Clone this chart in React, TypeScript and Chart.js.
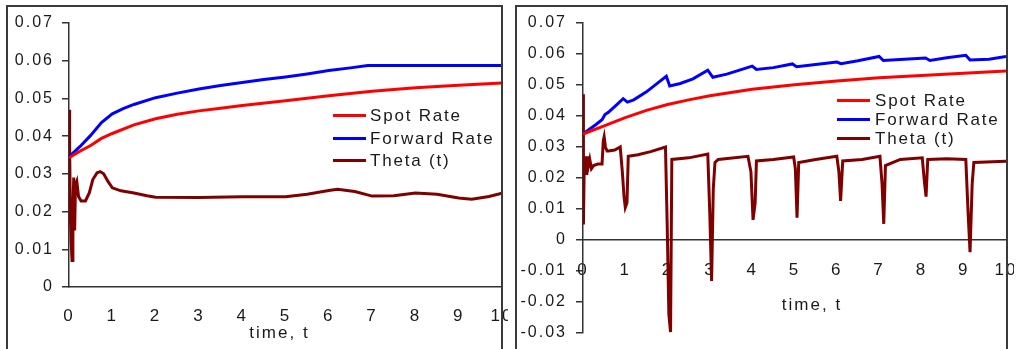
import React, { useEffect, useRef } from 'react';
import { Chart, registerables } from 'chart.js';

Chart.register(...registerables);

// ---------- data ----------
const seriesNames = ['Spot Rate', 'Forward Rate', 'Theta (t)'];
const seriesColors = ['#ff0000', '#0000ff', '#800000'];

// Left panel
const leftSpotTime = [0, 0.25, 0.5, 0.75, 1, 1.5, 2, 2.5, 3, 3.5, 4, 5, 6, 7, 8, 9, 10];
const leftSpotRate = [0.0343, 0.036, 0.0375, 0.0394, 0.0407, 0.043, 0.0446, 0.0458, 0.0467, 0.0474, 0.0481, 0.0494, 0.0507, 0.0519, 0.0528, 0.0535, 0.0541];

const leftForwardTime = [0, 0.25, 0.5, 0.75, 1, 1.25, 1.5, 2, 2.5, 3, 3.5, 4, 4.5, 5, 5.5, 6, 6.5, 6.9, 10];
const leftForwardRate = [0.0345, 0.0372, 0.0402, 0.0436, 0.0459, 0.0473, 0.0484, 0.0502, 0.0514, 0.0525, 0.0534, 0.0542, 0.055, 0.0557, 0.0565, 0.0574, 0.0581, 0.0587, 0.0587];

const leftThetaTime = [0, 0.01, 0.02, 0.03, 0.05, 0.07, 0.09, 0.11, 0.13, 0.15, 0.18, 0.22, 0.28, 0.38, 0.47, 0.55, 0.65, 0.72, 0.8, 0.9, 1.0, 1.2, 1.5, 1.8, 2, 3, 4, 5, 5.5, 6, 6.2, 6.6, 7, 7.5, 8, 8.5, 9, 9.3, 9.7, 10];
const leftThetaRate = [0.047, 0.017, 0.037, 0.02, 0.012, 0.007, 0.021, 0.029, 0.015, 0.027, 0.028, 0.024, 0.0228, 0.0228, 0.025, 0.0285, 0.0303, 0.0306, 0.03, 0.028, 0.0263, 0.0255, 0.0249, 0.0242, 0.0238, 0.0237, 0.0239, 0.0239, 0.0246, 0.0256, 0.0259, 0.0253, 0.0241, 0.0242, 0.0249, 0.0246, 0.0236, 0.0233, 0.024, 0.0249];

// Right panel
const rightSpotTime = [0, 0.5, 1, 1.5, 2, 2.5, 3, 3.5, 4, 5, 6, 7, 8, 9, 10];
const rightSpotRate = [0.0342, 0.0368, 0.0395, 0.0418, 0.0437, 0.0452, 0.0465, 0.0476, 0.0486, 0.0501, 0.0513, 0.0523, 0.0531, 0.0538, 0.0545];

const rightForwardTime = [0, 0.3, 0.45, 0.52, 0.6, 0.8, 0.95, 1.05, 1.2, 1.5, 1.8, 1.97, 2.05, 2.3, 2.6, 2.95, 3.07, 3.4, 3.7, 4.0, 4.1, 4.5, 4.95, 5.05, 5.5, 6.0, 6.1, 6.5, 7.0, 7.1, 7.6, 8.1, 8.2, 8.6, 9.05, 9.15, 9.6, 10];
const rightForwardRate = [0.0342, 0.0372, 0.0388, 0.0405, 0.0412, 0.0437, 0.0456, 0.0445, 0.0452, 0.0478, 0.051, 0.0528, 0.0497, 0.0505, 0.052, 0.0548, 0.0525, 0.0535, 0.0548, 0.0561, 0.055, 0.0556, 0.0568, 0.0559, 0.0566, 0.0574, 0.0569, 0.0578, 0.0592, 0.0579, 0.0583, 0.0587, 0.0579, 0.0588, 0.0596, 0.0581, 0.0583, 0.0592];

const rightThetaTime = [0, 0.01, 0.03, 0.05, 0.07, 0.09, 0.11, 0.13, 0.16, 0.2, 0.25, 0.35, 0.45, 0.48, 0.5, 0.53, 0.57, 0.6, 0.75, 0.88, 0.93, 0.97, 1.0, 1.04, 1.07, 1.3, 1.6, 1.95, 1.99, 2.03, 2.07, 2.1, 2.5, 2.95, 3.0, 3.04, 3.08, 3.12, 3.2, 3.9, 3.97, 4.02, 4.07, 4.1, 4.5, 4.98, 5.02, 5.06, 5.1, 5.5, 6.0, 6.05, 6.09, 6.14, 6.6, 7.02, 7.07, 7.11, 7.15, 7.5, 8.02, 8.07, 8.11, 8.15, 8.6, 9.05, 9.1, 9.15, 9.2, 9.24, 10];
const rightThetaRate = [0.047, 0.005, 0.025, 0.022, 0.027, 0.021, 0.027, 0.024, 0.026, 0.023, 0.024, 0.0245, 0.0245, 0.032, 0.0333, 0.03, 0.0287, 0.0287, 0.029, 0.03, 0.022, 0.014, 0.0105, 0.012, 0.027, 0.0275, 0.0285, 0.03, 0.005, -0.024, -0.0297, 0.026, 0.0265, 0.0277, 0.0074, -0.0132, 0.0165, 0.025, 0.026, 0.027, 0.022, 0.0065, 0.012, 0.0255, 0.026, 0.0268, 0.023, 0.0072, 0.025, 0.026, 0.027, 0.022, 0.0126, 0.0255, 0.026, 0.027, 0.018, 0.0052, 0.024, 0.026, 0.0265, 0.019, 0.014, 0.026, 0.0262, 0.026, 0.01, -0.0039, 0.018, 0.025, 0.0254];

const xAxisTitle = 'time, t';
const xMin = 0;
const xMax = 10;
const leftYRange = [0, 0.07];
const rightYRange = [-0.03, 0.07];

// ---------- styling ----------
const FONT = "'Liberation Sans', Arial, Helvetica, sans-serif";
const TEXT_COLOR = '#1a1a1a';
const AXIS_COLOR = '#333333';

const zip = (t: number[], v: number[]) => t.map((x, i) => ({ x, y: v[i] }));

const letterSpacingPlugin = {
  id: 'letterSpacing',
  beforeLayout(chart: any, _a: any, opts: any) {
    chart.ctx.letterSpacing = opts.value || '0px';
  },
  beforeDraw(chart: any, _a: any, opts: any) {
    chart.ctx.letterSpacing = opts.value || '0px';
  },
};

const axisTitlePlugin = {
  id: 'axisTitleText',
  afterDraw(chart: any, _a: any, opts: any) {
    const ctx = chart.ctx;
    ctx.save();
    ctx.font = `17px ${FONT}`;
    ctx.fillStyle = TEXT_COLOR;
    ctx.textAlign = 'center';
    ctx.textBaseline = 'middle';
    ctx.fillText(opts.text, opts.x, opts.y);
    ctx.restore();
  },
};

interface PanelSpec {
  canvas: { left: number; top: number; width: number; height: number };
  border: { left: number; top: number; width: number; height: number };
  yRange: number[];
  yWidth: number;
  yTickPad: number;
  xHeight: number;
  xPos: any;
  xTickPad: number;
  padRight: number;
  padBottom: number;
  title: { x: number; y: number };
  legend: { lineX: number; lineW: number; textX: number; ys: number[] };
  series: { time: number[]; value: number[] }[];
}

const panels: PanelSpec[] = [
  {
    canvas: { left: 8, top: 7, width: 500, height: 342 },
    border: { left: 6, top: 5, width: 497, height: 360 },
    yRange: leftYRange,
    yWidth: 61,
    yTickPad: 8,
    xHeight: 62,
    xPos: 'bottom',
    xTickPad: 19,
    padRight: 6,
    padBottom: 0,
    title: { x: 271.5, y: 326 },
    legend: { lineX: 333, lineW: 33, textX: 370, ys: [115, 138, 160] },
    series: [
      { time: leftSpotTime, value: leftSpotRate },
      { time: leftForwardTime, value: leftForwardRate },
      { time: leftThetaTime, value: leftThetaRate },
    ],
  },
  {
    canvas: { left: 517, top: 7, width: 497, height: 342 },
    border: { left: 515, top: 5, width: 493, height: 360 },
    yRange: rightYRange,
    yWidth: 66,
    yTickPad: 9,
    xHeight: 80,
    xPos: { y: 0 },
    xTickPad: 20,
    padRight: 8,
    padBottom: 16,
    title: { x: 295, y: 298 },
    legend: { lineX: 837, lineW: 33, textX: 875, ys: [100, 119, 138] },
    series: [
      { time: rightSpotTime, value: rightSpotRate },
      { time: rightForwardTime, value: rightForwardRate },
      { time: rightThetaTime, value: rightThetaRate },
    ],
  },
];

function Panel({ spec }: { spec: PanelSpec }) {
  const ref = useRef<HTMLCanvasElement>(null);

  useEffect(() => {
    const canvas = ref.current!;
    const chart = new Chart(canvas, {
      type: 'line',
      data: {
        datasets: spec.series.map((s, i) => ({
          label: seriesNames[i],
          data: zip(s.time, s.value),
          borderColor: seriesColors[i],
          backgroundColor: seriesColors[i],
          borderWidth: 3,
          pointRadius: 0,
          tension: 0,
          fill: false,
        })),
      },
      options: {
        animation: false,
        responsive: false,
        devicePixelRatio: 1,
        events: [],
        layout: { padding: { top: 16, left: 0, right: spec.padRight, bottom: spec.padBottom } },
        plugins: {
          legend: { display: false },
          tooltip: { enabled: false },
          letterSpacing: { value: '2px' },
          axisTitleText: { text: xAxisTitle, x: spec.title.x, y: spec.title.y },
        } as any,
        scales: {
          x: {
            type: 'linear',
            min: xMin,
            max: xMax,
            position: spec.xPos,
            ticks: {
              stepSize: 1,
              padding: spec.xTickPad,
              maxRotation: 0,
              autoSkip: false,
              color: TEXT_COLOR,
              font: { family: FONT, size: 17 },
              callback: (v: any) => String(v),
            },
            grid: { display: false, drawTicks: false },
            border: { display: true, color: AXIS_COLOR, width: 1.5 },
            afterFit: (s: any) => {
              s.height = spec.xHeight;
              s.paddingLeft = 0;
              s.paddingRight = 0;
              s.paddingTop = 0;
              s.paddingBottom = 0;
            },
          } as any,
          y: {
            type: 'linear',
            min: spec.yRange[0],
            max: spec.yRange[1],
            ticks: {
              stepSize: 0.01,
              padding: spec.yTickPad,
              color: TEXT_COLOR,
              font: { family: FONT, size: 16 },
              callback: (v: any) => String(Number(Number(v).toFixed(2))),
            },
            grid: { drawOnChartArea: false, drawTicks: true, tickLength: 7, color: AXIS_COLOR, lineWidth: 1.5 },
            border: { display: true, color: AXIS_COLOR, width: 1.5 },
            afterFit: (s: any) => {
              s.width = spec.yWidth;
              s.paddingTop = 0;
              s.paddingBottom = 0;
            },
          } as any,
        },
      },
      plugins: [letterSpacingPlugin as any, axisTitlePlugin as any],
    });
    return () => chart.destroy();
  }, [spec]);

  const c = spec.canvas;
  const b = spec.border;
  return (
    <>
      <canvas
        ref={ref}
        width={c.width}
        height={c.height}
        style={{ position: 'absolute', left: c.left, top: c.top, width: c.width, height: c.height }}
      />
      <div
        style={{
          position: 'absolute',
          left: b.left,
          top: b.top,
          width: b.width,
          height: b.height,
          boxSizing: 'border-box',
          border: '2px solid #3a3a3a',
          pointerEvents: 'none',
        }}
      />
      {seriesNames.map((name, i) => (
        <React.Fragment key={name}>
          <div
            style={{
              position: 'absolute',
              left: spec.legend.lineX,
              top: spec.legend.ys[i] - 1.5,
              width: spec.legend.lineW,
              height: 3,
              background: seriesColors[i],
            }}
          />
          <div
            style={{
              position: 'absolute',
              left: spec.legend.textX,
              top: spec.legend.ys[i] - 9,
              height: 20,
              lineHeight: '20px',
              fontFamily: FONT,
              fontSize: 17,
              letterSpacing: '1.8px',
              color: TEXT_COLOR,
              whiteSpace: 'nowrap',
            }}
          >
            {name}
          </div>
        </React.Fragment>
      ))}
    </>
  );
}

export default function App() {
  return (
    <div
      style={{
        position: 'absolute',
        left: 0,
        top: 0,
        width: 1020,
        height: 349,
        overflow: 'hidden',
        background: '#ffffff',
      }}
    >
      {panels.map((p, i) => (
        <Panel key={i} spec={p} />
      ))}
    </div>
  );
}
